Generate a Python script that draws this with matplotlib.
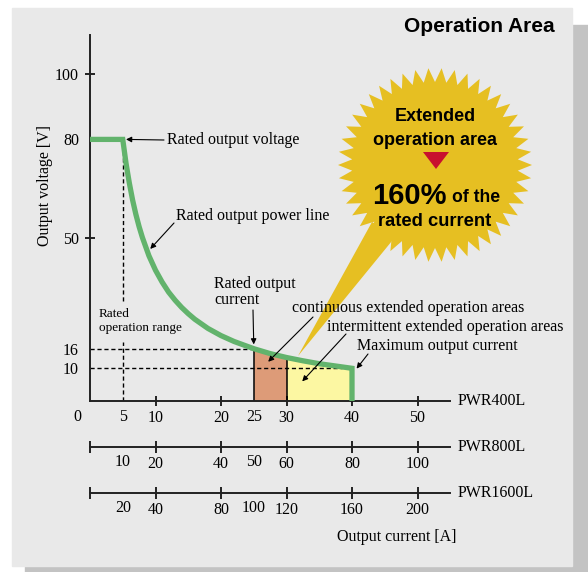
import matplotlib.pyplot as plt
import numpy as np
from matplotlib.patches import Polygon, Rectangle

# Curva de potencia nominal
corriente = [0, 5, 5.5, 6, 6.5, 7, 7.5, 8, 9, 10, 11, 12, 13, 14, 15, 16, 18, 20,
             22, 25, 27.5, 30, 32.5, 35, 37.5, 40, 40]
voltaje = [80, 80, 72.7, 66.7, 61.5, 57.1, 53.3, 50, 44.4, 40, 36.4, 33.3, 30.8,
           28.6, 26.7, 25, 22.2, 20, 18.2, 16, 14.5, 13.3, 12.3, 11.4, 10.7, 10, 0]

corriente_v_nominal = 5
corriente_nominal = 25
corriente_continua = 30
corriente_max = 40
voltaje_nominal_corr = 16
voltaje_min = 10

# Ejes y etiquetas
ticks_y = [50, 100]
ticks_y_sin_marca = [10, 16, 80]
ticks_400 = [10, 20, 30, 40, 50]
ticks_400_sin_marca = [5, 25]
ticks_800 = [0, 20, 40, 60, 80, 100]
ticks_800_sin_marca = [10, 50]
ticks_1600 = [0, 40, 80, 120, 160, 200]
ticks_1600_sin_marca = [20, 100]

SERIF = ['Liberation Serif', 'DejaVu Serif']
SANS = ['Liberation Sans', 'DejaVu Sans']
VERDE = '#62b36c'
FS = 11.5

W, H = 588, 572
fig = plt.figure(figsize=(W / 100, H / 100), dpi=100)
fig.patch.set_facecolor('white')


def caja(x0, y0, x1, y1):
    return [x0 / W, 1 - y1 / H, (x1 - x0) / W, (y1 - y0) / H]


# fondo con sombra
fondo = fig.add_axes([0, 0, 1, 1], zorder=0)
fondo.set_xlim(0, W)
fondo.set_ylim(H, 0)
fondo.axis('off')
fondo.add_patch(Rectangle((25, 25), W - 25, H - 25, color='#c3c3c3'))
fondo.add_patch(Rectangle((12, 8), 560, 558, color='#e9e9e9'))

# eje principal (PWR400L)
X0, X1, Y0, Y1 = 90, 450, 401, 35
ax = fig.add_axes(caja(X0, Y1, X1, Y0), zorder=1)
ax.patch.set_visible(False)
ax.set_xlim(0, (X1 - X0) / 6.55)
ax.set_ylim(0, (Y0 - Y1) / 3.27)
for s in ['top', 'right']:
    ax.spines[s].set_visible(False)
for s in ['left', 'bottom']:
    ax.spines[s].set_linewidth(1.4)
    ax.spines[s].set_color('#222222')

c = np.array(corriente)
v = np.array(voltaje)
m1 = (c >= corriente_nominal) & (c <= corriente_continua)
m2 = (c >= corriente_continua) & (c <= corriente_max) & (v > 0)
ax.fill_between(c[m1], 0, v[m1], color='#dd9b78', lw=0, zorder=1)
ax.fill_between(c[m2], 0, v[m2], color='#fcf7a2', lw=0, zorder=1)
for xc in [corriente_nominal, corriente_continua]:
    ax.plot([xc, xc], [0, np.interp(xc, c[:-1], v[:-1])], color='black', lw=1.1, zorder=2)

dash = (0, (3, 2))
ax.plot([0, corriente_nominal], [voltaje_nominal_corr] * 2, color='black', lw=1, ls=dash, zorder=2)
ax.plot([0, corriente_max - 1.5], [voltaje_min] * 2, color='black', lw=1, ls=dash, zorder=2)
ax.plot([corriente_v_nominal] * 2, [0, 18], color='black', lw=1, ls=dash, zorder=2)
ax.plot([corriente_v_nominal] * 2, [30.5, 80], color='black', lw=1, ls=dash, zorder=2)

ax.plot(c, v, color=VERDE, lw=3.8, zorder=3, solid_joinstyle='miter', solid_capstyle='butt')

ax.set_yticks(ticks_y)
ax.set_yticks(ticks_y_sin_marca, minor=True)
ax.set_yticklabels([str(t) for t in ticks_y], fontfamily=SERIF, fontsize=FS)
ax.set_yticklabels([str(t) for t in ticks_y_sin_marca], minor=True, fontfamily=SERIF, fontsize=FS)
ax.tick_params(axis='y', which='major', direction='inout', length=7.5, width=1.2, pad=4.2)
ax.tick_params(axis='y', which='minor', length=0, pad=8)

ax.set_xticks(ticks_400)
ax.set_xticks(ticks_400_sin_marca, minor=True)
ax.set_xticklabels([str(t) for t in ticks_400], fontfamily=SERIF, fontsize=FS)
ax.set_xticklabels([str(t) for t in ticks_400_sin_marca], minor=True, fontfamily=SERIF, fontsize=FS)
ax.tick_params(axis='x', which='major', direction='inout', length=7, width=1.2, pad=3)
ax.tick_params(axis='x', which='minor', length=0, pad=5.5)


def eje_extra(y, lim, ticks, extra):
    a = fig.add_axes(caja(X0, y - 1, X1, y), zorder=1)
    a.patch.set_visible(False)
    a.set_xlim(0, lim)
    a.set_yticks([])
    for s in ['top', 'right', 'left']:
        a.spines[s].set_visible(False)
    a.spines['bottom'].set_linewidth(1.4)
    a.spines['bottom'].set_color('#222222')
    a.set_xticks(ticks)
    a.set_xticklabels([str(t) if t else '' for t in ticks], fontfamily=SERIF, fontsize=FS)
    a.set_xticks(extra, minor=True)
    a.set_xticklabels([str(t) for t in extra], minor=True, fontfamily=SERIF, fontsize=FS)
    a.tick_params(axis='x', which='major', direction='inout', length=9, width=1.2, pad=2)
    a.tick_params(axis='x', which='minor', length=0, pad=5.2)
    return a


lim400 = ax.get_xlim()[1]
eje_extra(447, lim400 * 2, ticks_800, ticks_800_sin_marca)
eje_extra(493, lim400 * 4, ticks_1600, ticks_1600_sin_marca)

# capa superior: textos y estrella
top = fig.add_axes([0, 0, 1, 1], zorder=2)
top.patch.set_visible(False)
top.set_xlim(0, W)
top.set_ylim(H, 0)
top.axis('off')

top.text(555, 26, 'Operation Area', ha='right', va='center', fontsize=15,
         fontweight='bold', fontfamily=SANS)
top.text(77, 417, '0', ha='center', va='center', fontsize=FS, fontfamily=SERIF)
top.text(458, 401, 'PWR400L', ha='left', va='center', fontsize=FS, fontfamily=SERIF)
top.text(458, 447, 'PWR800L', ha='left', va='center', fontsize=FS, fontfamily=SERIF)
top.text(458, 493, 'PWR1600L', ha='left', va='center', fontsize=FS, fontfamily=SERIF)
top.text(337, 537, 'Output current [A]', ha='left', va='center', fontsize=FS, fontfamily=SERIF)
top.text(45, 185, 'Output voltage [V]', ha='center', va='center', rotation=90,
         fontsize=FS, fontfamily=SERIF)

top.text(167, 140, 'Rated output voltage', ha='left', va='center', fontsize=FS, fontfamily=SERIF)
top.text(176, 216, 'Rated output power line', ha='left', va='center', fontsize=FS, fontfamily=SERIF)
top.text(214, 292, 'Rated output\ncurrent', ha='left', va='center', fontsize=FS,
         fontfamily=SERIF, linespacing=1.0)
top.text(99, 321, 'Rated\noperation range', ha='left', va='center', fontsize=9.5,
         fontfamily=SERIF, linespacing=1.2)
top.text(292, 308, 'continuous extended operation areas', ha='left', va='center',
         fontsize=FS, fontfamily=SERIF)
top.text(327, 327, 'intermittent extended operation areas', ha='left', va='center',
         fontsize=FS, fontfamily=SERIF)
top.text(357, 346, 'Maximum output current', ha='left', va='center', fontsize=FS, fontfamily=SERIF)

flechas = [
    ((164, 140), (5.5, 80)),
    ((174, 223), (9.2, 46.5)),
    ((253, 310), (25, 17.3)),
    ((313, 317), (27.2, 12)),
    ((346, 334), (32.4, 6)),
    ((368, 354), (40.7, 9.9)),
]
for (px, py), dest in flechas:
    top.annotate('', xy=dest, xycoords=ax.transData, xytext=(px, py), textcoords='data',
                 arrowprops=dict(arrowstyle='-|>', lw=0.8, color='black',
                                 mutation_scale=8, shrinkA=0, shrinkB=0))

# estrella
AMARILLO = '#e6bf22'
cx, cy, r_ext, r_int, n = 435, 165, 97, 83, 46
ang = np.pi / 2 + np.pi / n + np.arange(2 * n) * np.pi / n
rad = np.where(np.arange(2 * n) % 2 == 0, r_ext, r_int)
top.add_patch(Polygon(np.c_[cx + rad * np.cos(ang), cy - rad * np.sin(ang)],
                      closed=True, color=AMARILLO, lw=0))
top.add_patch(Polygon([(298, 356), (372, 222), (396, 236)], closed=True, color=AMARILLO, lw=0))
top.add_patch(Polygon([(423, 152), (449, 152), (436, 169)], closed=True, color='#c8102e', lw=0))

top.text(435, 121, 'Extended', ha='center', va='baseline', fontsize=13,
         fontweight='bold', fontfamily=SANS)
top.text(435, 145, 'operation area', ha='center', va='baseline', fontsize=13,
         fontweight='bold', fontfamily=SANS)
top.text(372, 204, '160%', ha='left', va='baseline', fontsize=21,
         fontweight='bold', fontfamily=SANS)
top.text(452, 202, 'of the', ha='left', va='baseline', fontsize=12.7,
         fontweight='bold', fontfamily=SANS)
top.text(435, 226, 'rated current', ha='center', va='baseline', fontsize=13.2,
         fontweight='bold', fontfamily=SANS)

fig.savefig('out.png', dpi=100)
